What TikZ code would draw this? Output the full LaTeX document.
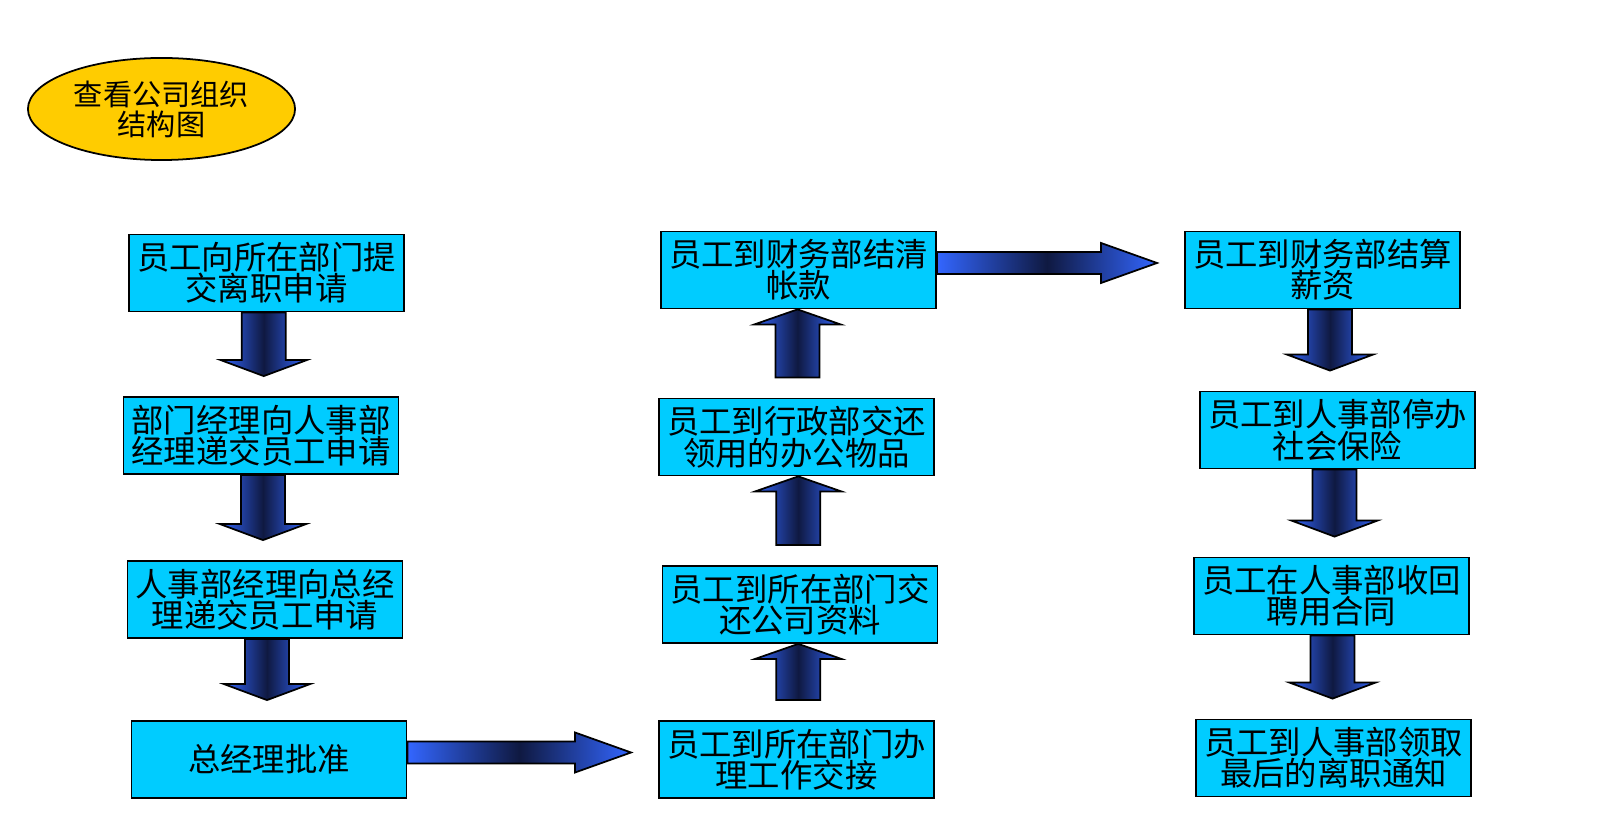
\documentclass[tikz,border=0pt]{standalone}
\usepackage{fontspec}
\setmainfont{Noto Sans CJK SC}
\usepackage{tikz}
\usetikzlibrary{shapes.geometric,calc}

\definecolor{boxcyan}{RGB}{0,204,255}
\definecolor{ovalgold}{RGB}{255,204,0}
\definecolor{arrowblue}{RGB}{51,102,255}
\definecolor{arrownavy}{RGB}{15,25,65}

\newcommand{\downblock}[2]{%
  \path[blockarrow] let \p1=($(#1.center)!.5!(#2.center)$), \p2=(#1.south), \p3=(#2.north) in
    (\x1-0.22cm,\y2) -- (\x1+0.22cm,\y2) -- (\x1+0.22cm,\y3+0.36cm)
    -- (\x1+0.43cm,\y3+0.36cm) -- (\x1,\y3+0.2cm) -- (\x1-0.43cm,\y3+0.36cm)
    -- (\x1-0.22cm,\y3+0.36cm) -- cycle;}
\newcommand{\upblock}[2]{%
  \path[blockarrow] let \p1=($(#1.center)!.5!(#2.center)$), \p2=(#1.north), \p3=(#2.south) in
    (\x1-0.22cm,\y2+0.2cm) -- (\x1+0.22cm,\y2+0.2cm) -- (\x1+0.22cm,\y3-0.15cm)
    -- (\x1+0.43cm,\y3-0.15cm) -- (\x1,\y3) -- (\x1-0.43cm,\y3-0.15cm)
    -- (\x1-0.22cm,\y3-0.15cm) -- cycle;}
\newcommand{\rightblock}[2]{%
  \path[blockarrow] let \p1=(#1.east), \p2=(#2.west) in
    (\x1,\y1+0.18cm) -- (\x2-0.83cm,\y1+0.18cm) -- (\x2-0.83cm,\y1+0.27cm)
    -- (\x2-0.27cm,\y1+0.07cm) -- (\x2-0.83cm,\y1-0.13cm) -- (\x2-0.83cm,\y1-0.04cm)
    -- (\x1,\y1-0.04cm) -- cycle;}

\begin{document}
\begin{tikzpicture}[x=0.01cm, y=-0.01cm]
	\tikzstyle{step box} = [draw=black, line width=0.5pt, fill=boxcyan, inner sep=0pt,
		minimum width=2.75cm, minimum height=0.77cm, align=center,
		font=\fontsize{9.2pt}{8.9pt}\selectfont]
	\tikzstyle{blockarrow} = [draw=black, line width=0.5pt,
		left color=arrowblue, right color=arrowblue, middle color=arrownavy]
	\useasboundingbox (0,0) rectangle (1600,819);
	\node (org) at (161.5,109) [ellipse, draw=black, line width=0.5pt, fill=ovalgold,
		minimum width=2.67cm, minimum height=1.02cm, inner sep=0pt, align=center,
		font=\fontsize{8.3pt}{8.5pt}\selectfont] {查看公司组织\\结构图};
	\node (s1) at (266.5,273) [step box] {员工向所在部门提\\交离职申请};
	\node (s2) at (261,435.5) [step box] {部门经理向人事部\\经理递交员工申请};
	\node (s3) at (265,599.5) [step box] {人事部经理向总经\\理递交员工申请};
	\node (s4) at (269,759.5) [step box] {总经理批准};
	\node (s5) at (796.5,759.5) [step box] {员工到所在部门办\\理工作交接};
	\node (s6) at (800,604.5) [step box] {员工到所在部门交\\还公司资料};
	\node (s7) at (796.5,437) [step box] {员工到行政部交还\\领用的办公物品};
	\node (s8) at (798.5,270) [step box] {员工到财务部结清\\帐款};
	\node (s9) at (1322.5,270) [step box] {员工到财务部结算\\薪资};
	\node (s10) at (1337.5,430) [step box] {员工到人事部停办\\社会保险};
	\node (s11) at (1331.5,596) [step box] {员工在人事部收回\\聘用合同};
	\node (s12) at (1333.5,758) [step box] {员工到人事部领取\\最后的离职通知};
	\downblock{s1}{s2}
	\downblock{s2}{s3}
	\downblock{s3}{s4}
	\rightblock{s4}{s5}
	\upblock{s5}{s6}
	\upblock{s6}{s7}
	\upblock{s7}{s8}
	\rightblock{s8}{s9}
	\downblock{s9}{s10}
	\downblock{s10}{s11}
	\downblock{s11}{s12}
\end{tikzpicture}
\end{document}
